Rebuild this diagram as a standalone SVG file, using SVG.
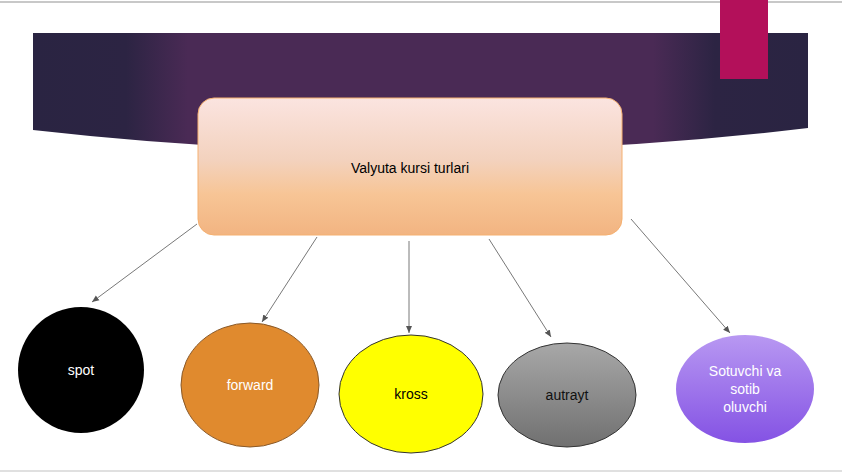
<svg xmlns="http://www.w3.org/2000/svg" width="842" height="474" viewBox="0 0 842 474">
<style>
text{font-family:"Liberation Sans",Arial,sans-serif;font-size:14px;text-anchor:middle}
.conn line{stroke:#555;stroke-width:0.8;marker-end:url(#ah)}
</style>
<defs>
<marker id="ah" markerWidth="8" markerHeight="8" refX="7" refY="4" orient="auto" markerUnits="userSpaceOnUse">
<path d="M0,1 L7,4 L0,7 Z" fill="#555"/>
</marker>
<linearGradient id="band" x1="0" x2="1" y1="0" y2="0">
<stop offset="0" stop-color="#2a2442"/>
<stop offset="0.12" stop-color="#2c2443"/>
<stop offset="0.2" stop-color="#4a2a55"/>
<stop offset="0.8" stop-color="#4a2a55"/>
<stop offset="0.88" stop-color="#2c2443"/>
<stop offset="1" stop-color="#2a2442"/>
</linearGradient>
<linearGradient id="box" x1="0" x2="0" y1="0" y2="1">
<stop offset="0" stop-color="#fbe4e0"/>
<stop offset="0.45" stop-color="#f3d2be"/>
<stop offset="0.7" stop-color="#f7c596"/>
<stop offset="1" stop-color="#f2b481"/>
</linearGradient>
<linearGradient id="gray" x1="0" x2="0" y1="0" y2="1">
<stop offset="0" stop-color="#a8a8a8"/>
<stop offset="1" stop-color="#707070"/>
</linearGradient>
<linearGradient id="purp" x1="0" x2="0" y1="0" y2="1">
<stop offset="0" stop-color="#b898f2"/>
<stop offset="1" stop-color="#8452e4"/>
</linearGradient>
</defs>
<rect width="842" height="474" fill="#ffffff"/>
<line x1="0" y1="2" x2="842" y2="2" stroke="#c8c8c8" stroke-width="2"/>
<line x1="0" y1="471" x2="842" y2="471" stroke="#e0e0e0" stroke-width="2"/>
<path d="M33,33 L808,33 L808,128 Q420,174 33,130 Z" fill="url(#band)"/>
<rect x="720" y="0" width="48" height="79" fill="#b3105a"/>
<g id="root">
<rect x="198" y="98" width="424" height="137" rx="16" fill="url(#box)" stroke="#f5b070" stroke-width="1"/>
<text x="410" y="173">Valyuta kursi turlari</text>
</g>
<g class="conn" id="connectors">
<line x1="197" y1="224" x2="92" y2="302"/>
<line x1="317" y1="237" x2="262" y2="322"/>
<line x1="409" y1="241" x2="409" y2="333"/>
<line x1="489" y1="239" x2="551" y2="337"/>
<line x1="631" y1="219" x2="730" y2="333"/>
</g>
<g id="spot">
<ellipse cx="81" cy="370" rx="63" ry="63" fill="#000"/>
<text x="81" y="375" fill="#fff">spot</text>
</g>
<g id="forward">
<ellipse cx="250" cy="385" rx="69" ry="62" fill="#e08a2e" stroke="#8a5a2a" stroke-width="1"/>
<text x="250" y="390" fill="#fff">forward</text>
</g>
<g id="kross">
<ellipse cx="411" cy="394" rx="72" ry="59" fill="#ffff00" stroke="#333" stroke-width="1"/>
<text x="411" y="399" fill="#000">kross</text>
</g>
<g id="autrayt">
<ellipse cx="567" cy="395" rx="69" ry="52" fill="url(#gray)" stroke="#333" stroke-width="1"/>
<text x="567" y="400" fill="#111">autrayt</text>
</g>
<g id="sotuvchi">
<ellipse cx="745" cy="389" rx="69" ry="54" fill="url(#purp)"/>
<text x="745" y="376" fill="#fff">Sotuvchi va</text>
<text x="745" y="394" fill="#fff">sotib</text>
<text x="745" y="412" fill="#fff">oluvchi</text>
</g>
</svg>
